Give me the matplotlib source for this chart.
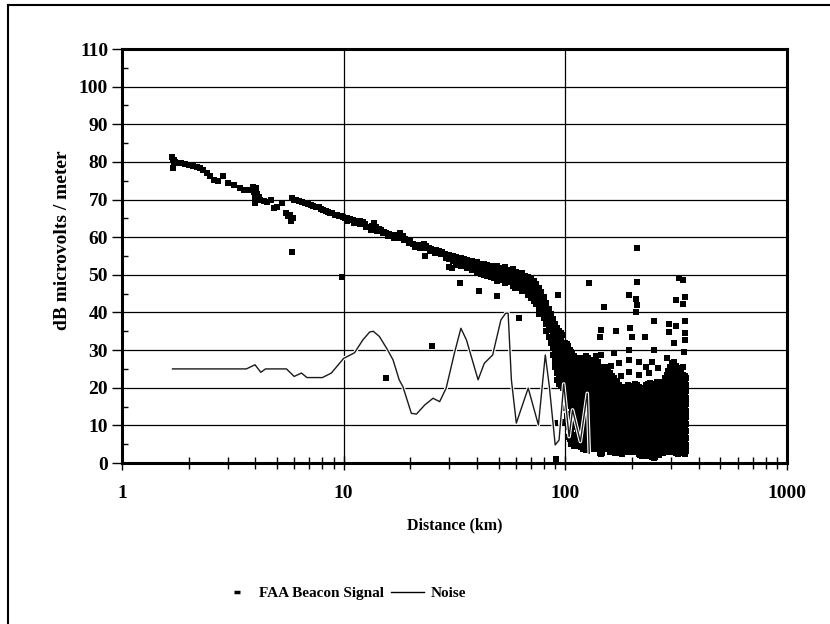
import matplotlib
matplotlib.use("Agg")
import matplotlib.pyplot as plt
import matplotlib.patheffects as pe
from matplotlib.lines import Line2D
from matplotlib.ticker import FixedLocator, NullFormatter, LogLocator

# ---------------- data ----------------
x_ticks = [1, 10, 100, 1000]
x_tick_labels = ["1", "10", "100", "1000"]
y_ticks = list(range(0, 111, 10))

# FAA beacon: main decreasing trend (1.7 - 30 km)
trend_x = [1.68, 1.69, 1.70, 1.71, 1.72, 1.74, 1.78, 1.85, 1.92, 2.0, 2.08, 2.17, 2.25,
           2.33, 2.42, 2.5, 2.6, 2.7, 2.85, 3.0, 3.2, 3.4, 3.55, 3.7, 3.9, 3.95, 4.0,
           4.0, 4.02, 4.05, 4.1, 4.15, 4.2, 4.35, 4.5, 4.7, 4.85, 5.0, 5.25, 5.5, 5.6,
           5.7, 5.8, 5.85, 5.9, 6.0, 6.1, 6.3, 6.5, 6.7, 6.9, 7.1, 7.3, 7.5, 7.7, 7.9,
           8.1, 8.3, 8.5, 8.7, 8.9, 9.1, 9.3, 9.5, 9.7, 9.9, 10.1, 10.4, 10.7, 11.0,
           11.3, 11.6, 11.9, 12.2, 12.5, 12.8, 13.1, 13.4, 13.7, 14.0, 14.4, 14.8, 15.2,
           15.6, 16.0, 16.5, 17.0, 17.5, 18.0, 18.5, 19.0, 19.5, 20.0, 20.6, 21.2, 21.8,
           22.4, 23.0, 23.6, 24.2, 24.8, 25.5, 26.2, 27.0, 27.8, 28.6, 29.4]
trend_y = [81.2, 80.4, 78.5, 79.8, 80.6, 79.9, 79.8, 79.6, 79.4, 79.2, 79.0, 78.6, 78.4,
           77.8, 77.0, 76.2, 75.2, 74.8, 76.3, 74.5, 73.9, 73.2, 72.5, 72.6, 73.4, 72.0, 70.5,
           69.0, 73.0, 71.5, 70.0, 70.8, 69.8, 69.6, 69.3, 70.0, 67.7, 68.0, 69.0, 66.5, 65.5,
           66.0, 64.3, 70.4, 65.0, 70.0, 69.8, 69.5, 69.3, 69.0, 68.8, 68.5, 68.3, 68.1, 68.0, 67.6,
           67.3, 67.0, 66.8, 66.5, 66.4, 66.0, 65.8, 65.6, 65.5, 65.3, 65.2, 65.0, 64.8, 64.6,
           64.4, 64.3, 64.2, 64.1, 63.6, 62.8, 62.6, 63.0, 63.8, 62.8, 62.2, 61.8, 61.3,
           61.0, 60.8, 60.6, 60.5, 60.6, 61.0, 60.2, 59.6, 59.2, 58.9, 58.3, 57.8, 57.5,
           57.8, 58.2, 57.6, 57.2, 56.8, 56.6, 56.5, 56.3, 56.0, 55.4, 55.0]

# second row of the trend (10 - 30 km)
trend2_x = [10.3, 11.1, 11.8, 12.6, 13.3, 14.2, 15.0, 15.9, 16.8, 17.8, 18.8, 19.8, 20.9,
            22.1, 23.3, 24.5, 25.8, 27.4, 29.0]
trend2_y = [64.3, 63.8, 63.6, 62.8, 62.0, 61.6, 61.0, 60.2, 59.8, 59.8, 59.2, 58.5, 57.5,
            57.0, 57.1, 56.2, 55.8, 55.4, 54.4]

# FAA beacon: thick band (30 - 98 km), one list of values per distance
band_x = [30, 31, 32, 33, 34, 35, 36, 37, 38, 39, 40, 41.5, 43, 44.5, 46, 47.5, 49, 50.5,
          52, 53.5, 55, 56.5, 58, 60, 62, 64, 66, 68, 70, 72, 74, 76, 78, 80, 82, 84, 86,
          88, 90, 92, 94, 96, 98]
band_y = [[55.3, 54.2], [55.0, 53.6], [54.8, 53.8, 52.5], [54.6, 53.2], [54.5, 53.5, 52.4],
          [54.3, 53.0], [54.0, 52.8, 51.8], [53.8, 52.6], [53.6, 52.3, 51.2], [53.4, 52.0],
          [53.5, 52.2, 50.8], [53.0, 51.6, 50.3], [52.8, 51.5, 50.0], [52.5, 51.2, 49.6],
          [52.3, 51.0, 49.4], [52.0, 50.6, 49.2], [52.4, 51.0, 49.6, 48.4], [51.8, 50.4, 49.0],
          [51.6, 50.2, 48.7], [52.0, 50.6, 49.2, 47.8], [51.3, 50.0, 48.5], [51.0, 49.6, 48.2],
          [51.5, 50.0, 48.5, 47.0], [50.8, 49.4, 48.0, 46.6], [50.4, 49.0, 47.5],
          [50.6, 49.0, 47.4, 45.8], [49.8, 48.3, 46.8], [49.5, 47.8, 46.2, 44.6],
          [49.0, 47.2, 45.5, 43.8], [48.4, 46.6, 44.8, 43.0], [47.6, 45.8, 44.0, 42.2],
          [46.5, 44.6, 42.8, 41.0, 39.5], [45.4, 43.5, 41.6, 39.8], [44.0, 42.0, 40.2, 38.4],
          [42.5, 40.5, 38.6, 36.8, 35.0], [41.0, 39.0, 37.2, 35.4, 33.5],
          [39.5, 37.5, 35.5, 33.6, 31.8], [38.2, 36.4, 34.4, 32.5, 30.6, 28.6],
          [37.0, 35.0, 33.0, 31.0, 29.0, 27.0, 25.5], [36.0, 34.0, 32.0, 30.0, 28.0, 26.0, 24.0, 22.0],
          [35.0, 33.0, 31.0, 29.0, 27.0, 25.0, 23.0, 21.0],
          [34.5, 32.5, 30.5, 28.5, 26.5, 24.5, 22.5, 20.5],
          [34.0, 32.0, 30.0, 28.0, 26.0, 24.0, 22.0, 20.0]]

# FAA beacon: dense cloud (100 - 352 km), one list of values per distance
cloud_x = [100, 103, 106, 109, 112, 116, 120, 124, 128, 133, 138, 143, 148, 153, 159, 165,
           171, 177, 184, 191, 198, 206, 214, 222, 231, 240, 250, 260, 270, 281, 292, 304,
           316, 328, 340, 352]
cloud_y = [
    [32, 30.2, 28.5, 26.6, 25, 23.2, 21.5, 19.6, 18, 14.5, 11],
    [31, 29.3, 27.4, 25.8, 24, 22.3, 20.6, 18.8, 16.5, 13, 9.5, 7],
    [29.5, 27.8, 26.1, 24.4, 22.7, 21, 19.3, 17.4, 15.5, 12, 8.5, 5],
    [28.5, 26.7, 25, 23.2, 21.6, 19.8, 18, 16.3, 14.5, 12.8, 10.8, 7.5, 4.5],
    [27.6, 25.9, 24.2, 22.4, 20.7, 19, 17.2, 15.5, 13.6, 11.8, 9.6, 7.2, 5],
    [28, 26.2, 24.5, 22.8, 21, 19.3, 17.6, 15.8, 14, 12.2, 10.4, 8.5, 6.5, 4.5],
    [27.2, 25.4, 23.6, 21.9, 20.2, 18.5, 16.7, 15, 13.2, 11.4, 9.6, 7.7, 5.8, 3.8],
    [28.3, 26.5, 24.8, 23, 21.2, 19.6, 17.8, 16, 14.3, 12.5, 10.7, 8.8, 7, 5, 3.5],
    [27.5, 25.7, 24, 22.2, 20.5, 18.8, 17, 15.2, 13.4, 11.6, 9.9, 8, 6.1, 4.2],
    [26.8, 25, 23.3, 21.5, 19.8, 18, 16.3, 14.5, 12.8, 11, 9.2, 7.4, 5.5, 3.6],
    [28, 26.2, 24.4, 22.6, 20.9, 19.1, 17.4, 15.6, 13.9, 12.1, 10.3, 8.5, 6.7, 4.8],
    [25.6, 23.8, 22.1, 20.3, 18.6, 16.8, 15.1, 13.3, 11.6, 9.8, 8, 6.2, 4.4, 2.6],
    [24.8, 23, 21.3, 19.5, 17.8, 16, 14.3, 12.5, 10.8, 9, 7.2, 5.4, 3.6],
    [25.5, 23.7, 22, 20.2, 18.5, 16.7, 15, 13.2, 11.4, 9.7, 7.9, 6.1, 4.3],
    [24, 22.3, 20.5, 18.8, 17, 15.3, 13.5, 11.8, 10, 8.2, 6.4, 4.6, 2.9],
    [22.5, 20.8, 19, 17.3, 15.5, 13.8, 12, 10.3, 8.5, 6.7, 4.9, 3.2],
    [21.4, 19.6, 17.9, 16.1, 14.4, 12.6, 10.9, 9.1, 7.3, 5.5, 3.7],
    [20.2, 18.5, 16.7, 15, 13.2, 11.5, 9.7, 8, 6.2, 4.4, 2.6],
    [19.6, 17.8, 16.1, 14.3, 12.6, 10.8, 9.1, 7.3, 5.5, 3.8],
    [20.8, 19, 17.3, 15.5, 13.8, 12, 10.3, 8.5, 6.7, 4.9, 3.1],
    [19.8, 18, 16.3, 14.5, 12.8, 11, 9.3, 7.5, 5.7, 4],
    [21, 19.2, 17.5, 15.7, 14, 12.2, 10.5, 8.7, 6.9, 5.1, 3.3],
    [20.2, 18.5, 16.7, 15, 13.2, 11.5, 9.7, 7.9, 6.1, 4.3, 2.5],
    [19.5, 17.7, 16, 14.2, 12.5, 10.7, 9, 7.2, 5.4, 3.6, 1.9],
    [20.6, 18.8, 17.1, 15.3, 13.6, 11.8, 10.1, 8.3, 6.5, 4.7, 2.9],
    [21.2, 19.4, 17.7, 15.9, 14.2, 12.4, 10.7, 8.9, 7.1, 5.3, 3.5, 1.8],
    [20.5, 18.7, 17, 15.2, 13.5, 11.7, 10, 8.2, 6.4, 4.6, 2.8, 1.2],
    [21.5, 19.7, 18, 16.2, 14.5, 12.7, 11, 9.2, 7.4, 5.6, 3.8, 2],
    [20.8, 19, 17.3, 15.5, 13.8, 12, 10.3, 8.5, 6.7, 4.9, 3.1],
    [22.5, 20.7, 19, 17.2, 15.5, 13.7, 12, 10.2, 8.4, 6.6, 4.8, 3],
    [24.5, 22.7, 21, 19.2, 17.5, 15.7, 14, 12.2, 10.4, 8.6, 6.8, 5, 3.2],
    [26.5, 24.7, 23, 21.2, 19.5, 17.7, 16, 14.2, 12.4, 10.6, 8.8, 7, 5.2, 3.4],
    [25.8, 24, 22.3, 20.5, 18.8, 17, 15.3, 13.5, 11.7, 9.9, 8.1, 6.3, 4.5, 2.7],
    [24.6, 22.8, 21.1, 19.3, 17.6, 15.8, 14.1, 12.3, 10.5, 8.7, 6.9, 5.1, 3.3],
    [23.5, 21.7, 20, 18.2, 16.5, 14.7, 13, 11.2, 9.4, 7.6, 5.8, 4, 2.6],
    [22.6, 20.8, 19.1, 17.3, 15.6, 13.8, 12.1, 10.3, 8.5, 6.7, 4.9, 3.1],
]

# dense cloud, second interleaved set of distances
cloud2_x = [101.5, 104.5, 107.5, 110.5, 114, 118, 122, 126, 130.5, 135.5, 140.5, 145.5,
            150.5, 156, 162, 168, 174, 180.5, 187.5, 194.5, 202, 210, 218, 226.5, 235.5,
            245, 255, 265, 275.5, 286.5, 298, 310, 322, 334, 346]
cloud2_y = [
    [31.5, 29.6, 27.7, 26, 24.2, 22.4, 20.7, 18.8, 16, 12.5],
    [30, 28.4, 26.7, 25, 23.2, 21.5, 19.7, 17.8, 15.2, 11, 6.5],
    [29, 27.2, 25.5, 23.8, 22, 20.3, 18.5, 16.8, 14, 10, 6],
    [28, 26.3, 24.6, 22.8, 21.1, 19.4, 17.6, 15.9, 14, 12, 9.5, 6],
    [27.8, 26.1, 24.4, 22.6, 20.9, 19.2, 17.4, 15.7, 13.9, 12, 10, 8, 5.7],
    [27.6, 25.8, 24, 22.3, 20.6, 18.9, 17.1, 15.4, 13.6, 11.8, 10, 8.1, 6.1, 4.2],
    [27.8, 26, 24.2, 22.5, 20.7, 19, 17.3, 15.5, 13.8, 12, 10.2, 8.3, 6.4, 4.4],
    [27.9, 26.1, 24.4, 22.6, 20.9, 19.2, 17.4, 15.6, 13.9, 12.1, 10.3, 8.4, 6.5, 4.6],
    [27.1, 25.4, 23.6, 21.9, 20.2, 18.4, 16.7, 14.9, 13.1, 11.3, 9.5, 7.7, 5.8, 3.9],
    [27.4, 25.6, 23.9, 22.1, 20.4, 18.6, 16.9, 15.1, 13.4, 11.6, 9.8, 8, 6.1, 4.2],
    [26.8, 25, 23.3, 21.5, 19.8, 18, 16.3, 14.5, 12.8, 11, 9.2, 7.4, 5.6, 3.7],
    [25.2, 23.4, 21.7, 19.9, 18.2, 16.4, 14.7, 12.9, 11.2, 9.4, 7.6, 5.8, 4, 2.4],
    [25.1, 23.4, 21.6, 19.9, 18.1, 16.4, 14.6, 12.9, 11.1, 9.3, 7.5, 5.7, 4],
    [24.7, 23, 21.2, 19.5, 17.7, 16, 14.2, 12.5, 10.7, 9, 7.1, 5.3, 3.6],
    [23.2, 21.5, 19.7, 18, 16.2, 14.5, 12.7, 11, 9.2, 7.4, 5.6, 3.9],
    [21.9, 20.2, 18.4, 16.7, 14.9, 13.2, 11.4, 9.7, 7.9, 6.1, 4.3, 2.6],
    [20.8, 19, 17.3, 15.5, 13.8, 12, 10.3, 8.5, 6.7, 4.9, 3.2],
    [19.9, 18.1, 16.4, 14.6, 12.9, 11.1, 9.4, 7.6, 5.8, 4, 2.4],
    [20.2, 18.4, 16.7, 14.9, 13.2, 11.4, 9.7, 7.9, 6.1, 4.3, 2.9],
    [20.3, 18.5, 16.8, 15, 13.3, 11.5, 9.8, 8, 6.2, 4.4, 3],
    [20.4, 18.6, 16.9, 15.1, 13.4, 11.6, 9.9, 8.1, 6.3, 4.5, 2.8],
    [20.6, 18.8, 17.1, 15.3, 13.6, 11.8, 10.1, 8.3, 6.5, 4.7, 3],
    [19.8, 18, 16.3, 14.5, 12.8, 11, 9.3, 7.5, 5.7, 3.9, 2.2],
    [20, 18.2, 16.5, 14.7, 13, 11.2, 9.5, 7.7, 5.9, 4.1, 2.4],
    [20.9, 19.1, 17.4, 15.6, 13.9, 12.1, 10.4, 8.6, 6.8, 5, 3.2, 1.9],
    [20.8, 19, 17.3, 15.5, 13.8, 12, 10.3, 8.5, 6.7, 4.9, 3.1, 1.5],
    [21, 19.2, 17.5, 15.7, 14, 12.2, 10.5, 8.7, 6.9, 5.1, 3.3, 1.6],
    [21.1, 19.3, 17.6, 15.8, 14.1, 12.3, 10.6, 8.8, 7, 5.2, 3.4, 2.2],
    [21.6, 19.8, 18.1, 16.3, 14.6, 12.8, 11.1, 9.3, 7.5, 5.7, 3.9, 2.6],
    [23.5, 21.7, 20, 18.2, 16.5, 14.7, 13, 11.2, 9.4, 7.6, 5.8, 4, 2.8],
    [25.5, 23.7, 22, 20.2, 18.5, 16.7, 15, 13.2, 11.4, 9.6, 7.8, 6, 4.2, 3],
    [26.1, 24.3, 22.6, 20.8, 19.1, 17.3, 15.6, 13.8, 12, 10.2, 8.4, 6.6, 4.8, 3],
    [25.2, 23.4, 21.7, 19.9, 18.2, 16.4, 14.7, 12.9, 11.1, 9.3, 7.5, 5.7, 3.9, 2.5],
    [24, 22.2, 20.5, 18.7, 17, 15.2, 13.5, 11.7, 9.9, 8.1, 6.3, 4.5, 2.8],
    [23, 21.2, 19.5, 17.7, 16, 14.2, 12.5, 10.7, 8.9, 7.1, 5.3, 3.5, 2.5],
]

# FAA beacon: scattered points
sparse_x = [5.85, 9.8, 15.6, 23.3, 25.0, 30.0, 30.8, 33.6, 40.9, 49.0, 59.1, 61.6, 92.5,
            89.4, 90.6, 128, 211, 211, 193, 208, 210, 208, 150, 315, 340, 348, 252, 294,
            315, 345, 145, 144, 169, 196, 199, 228, 294, 345, 310, 348, 252, 194, 165,
            145, 161, 175, 194, 215, 230, 246, 261, 194, 178, 215, 239, 288, 310, 339,
            342, 137, 128, 324, 341, 208, 147, 256, 348]
sparse_y = [56.0, 49.3, 22.7, 55.1, 31.1, 52.2, 51.8, 47.8, 45.7, 44.4, 46.5, 38.5, 44.7,
            10.5, 1.0, 47.8, 57.1, 48.1, 44.7, 43.5, 42.0, 40.2, 41.4, 43.2, 42.3, 44.2, 37.6, 36.9,
            36.5, 37.6, 35.4, 33.4, 35.2, 35.8, 33.6, 33.4, 34.8, 34.5, 31.8, 32.7, 30.1, 29.9, 29.2,
            28.7, 25.8, 26.5, 27.4, 26.9, 25.6, 26.9, 25.2, 24.3, 23.0, 23.4, 23.9, 27.8, 26.9, 25.6,
            29.6, 28.3, 26.5, 49.1, 48.5, 3.5, 2.7, 2.1, 3.5]

# Noise
noise_x = [1.69, 3.64, 3.98, 4.23, 4.44, 5.52, 5.98, 6.45, 6.83, 8.02, 8.8, 10.0, 11.2, 12.2,
           13.1, 13.6, 14.5, 15.8, 16.7, 17.8, 18.5, 20.2, 21.3, 23.2, 25.3, 27.1, 29.0, 31.6,
           33.8, 35.8, 40.4, 43.1, 47.0, 51.2, 53.8, 55.2, 57.1, 60.1, 68.0, 75.6, 81.2, 84.7,
           90.0, 93.7, 98.3, 104.0, 107.8, 116.9, 125.6, 128.2]
noise_y = [25.0, 25.0, 26.1, 24.1, 25.0, 25.0, 23.0, 23.9, 22.7, 22.7, 23.9, 27.8, 29.3, 32.7,
           34.8, 35.0, 33.6, 30.0, 27.4, 22.1, 20.3, 13.2, 13.0, 15.4, 17.2, 16.3, 19.9, 29.2,
           35.8, 32.7, 22.1, 26.5, 28.7, 38.0, 39.8, 39.8, 22.1, 10.6, 19.9, 10.1, 28.7, 20.3,
           4.8, 6.1, 21.0, 7.0, 14.1, 5.7, 18.5, 2.6]

# ---------------- figure ----------------
W, H = 830, 624
fig = plt.figure(figsize=(W / 100, H / 100), dpi=100)
plt.rcParams['font.family'] = ['Liberation Serif', 'DejaVu Serif']
plt.rcParams['font.weight'] = 'bold'

ax = fig.add_axes([122 / W, 1 - 463 / H, (787 - 122) / W, (463 - 49) / H])

# flatten beacon data
bx, by = list(trend_x) + trend2_x, list(trend_y) + trend2_y
for xs, yss in ((band_x, band_y), (cloud_x, cloud_y), (cloud2_x, cloud2_y)):
    for xv, ys in zip(xs, yss):
        bx += [xv] * len(ys)
        by += ys
bx += sparse_x
by += sparse_y

ax.plot(bx, by, ls='none', marker='s', ms=3.8, mew=0, color='black', zorder=3)
ax.plot(noise_x, noise_y, color='#1a1a1a', lw=1.0, zorder=4,
        path_effects=[pe.Stroke(linewidth=2.6, foreground='white'), pe.Normal()])

ax.set_xscale('log')
ax.set_xlim(1, 1000)
ax.set_ylim(0, 110)
ax.set_xticks(x_ticks)
ax.set_xticklabels(x_tick_labels)
ax.xaxis.set_minor_locator(LogLocator(base=10, subs=range(2, 10)))
ax.xaxis.set_minor_formatter(NullFormatter())
ax.set_yticks(y_ticks)
ax.yaxis.set_minor_locator(FixedLocator([v + 5 for v in y_ticks[:-1]]))

ax.grid(True, which='major', color='black', lw=0.9)
ax.set_axisbelow(True)
for s in ax.spines.values():
    s.set_linewidth(2.2)
    s.set_color('black')
    s.set_zorder(5)

tfs = 14
ax.tick_params(axis='y', which='major', direction='out', length=7, width=1, pad=3,
               labelsize=tfs)
ax.tick_params(axis='y', which='minor', direction='in', length=4, width=1)
ax.tick_params(axis='x', which='major', direction='inout', length=10, width=1, pad=11,
               labelsize=tfs)
ax.tick_params(axis='x', which='minor', direction='inout', length=8, width=1)

ax.set_xlabel('Distance (km)', fontsize=11.5, fontweight='bold', labelpad=11)
ax.set_ylabel('dB microvolts / meter', fontsize=14, fontweight='bold')
ax.yaxis.set_label_coords(-0.077, 0.539)

handles = [Line2D([], [], ls='none', marker='_', ms=5, mew=2.5, color='black'),
           Line2D([], [], color='black', lw=1.0)]
fig.legend(handles, ['FAA Beacon Signal', 'Noise'], loc='center', ncol=2,
           bbox_to_anchor=(0.413, 1 - 593 / H), frameon=False,
           prop={'size': 11, 'weight': 'bold'}, handlelength=2.2, handletextpad=0.4,
           columnspacing=0.4)

# outer frame (left and top edges visible)
fig.add_artist(Line2D([8 / W, 8 / W], [0, 1 - 5 / H], color='black', lw=1.5,
                      transform=fig.transFigure))
fig.add_artist(Line2D([8 / W, 1], [1 - 5 / H, 1 - 5 / H], color='black', lw=1.5,
                      transform=fig.transFigure))

fig.savefig('out.png', dpi=100)
